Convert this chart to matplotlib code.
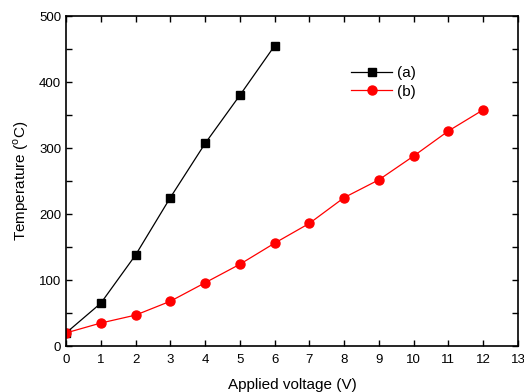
import matplotlib
matplotlib.use("Agg")
import matplotlib.pyplot as plt
from matplotlib.ticker import MultipleLocator

plt.rcParams['font.family'] = ['Liberation Sans', 'DejaVu Sans']
plt.rcParams['mathtext.fontset'] = 'custom'
plt.rcParams['mathtext.rm'] = 'Liberation Sans'

# data
volt_a = [0, 1, 2, 3, 4, 5, 6]
temp_a = [20, 65, 138, 225, 307, 380, 455]
volt_b = [0, 1, 2, 3, 4, 5, 6, 7, 8, 9, 10, 11, 12]
temp_b = [20, 35, 47, 68, 96, 124, 156, 186, 225, 252, 288, 326, 358]

fig = plt.figure(figsize=(5.24, 3.92), dpi=100)
ax = fig.add_axes([0.126, 0.117, 0.8625, 0.842])

ax.plot(volt_a, temp_a, color='black', lw=0.9, marker='s', ms=5.5, label='(a)')
ax.plot(volt_b, temp_b, color='red', lw=0.9, marker='o', ms=6.5, label='(b)')

ax.set_xlim(0, 13)
ax.set_ylim(0, 500)
ax.xaxis.set_major_locator(MultipleLocator(1))
ax.yaxis.set_major_locator(MultipleLocator(100))
ax.yaxis.set_minor_locator(MultipleLocator(50))
ax.tick_params(which='both', direction='in', top=True, right=True, labelsize=9.5, width=1)
ax.tick_params(which='major', length=4)
ax.tick_params(which='minor', length=4)
ax.tick_params(axis='x', pad=6)
for s in ax.spines.values():
    s.set_linewidth(1.2)

ax.set_xlabel('Applied voltage (V)', fontsize=11, labelpad=8)
ax.set_ylabel(r'Temperature ($^\mathrm{o}$C)', fontsize=11, labelpad=6)

ax.legend(loc='upper left', bbox_to_anchor=(0.6, 0.89), frameon=False,
          fontsize=11, handlelength=2.7, labelspacing=0.3, handletextpad=0.3)

fig.savefig('out.png', dpi=100)
